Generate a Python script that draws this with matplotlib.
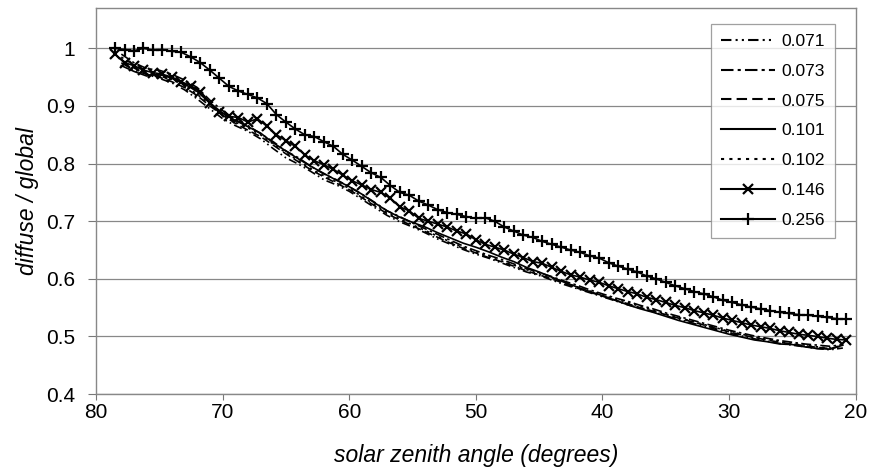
import matplotlib
matplotlib.use("Agg")
import matplotlib.pyplot as plt

plt.rcParams["font.family"] = ["Liberation Sans", "DejaVu Sans"]

# zenith angle grid for the plain lines (degrees)
x_lines = [78, 77, 76, 75, 74, 73, 72, 71, 70, 69, 68, 67, 66, 65, 64, 63, 62, 61, 60,
           59, 58, 57, 56, 55, 54, 53, 52, 51, 50, 49, 48, 47, 46, 45, 44, 43, 42, 41,
           40, 39, 38, 37, 36, 35, 34, 33, 32, 31, 30, 29, 28, 27, 26, 25, 24, 23, 22, 21]

# zenith angle grid for the two marker series
x_marks = [78.5, 77.75, 77.0, 76.25, 75.5, 74.75, 74.0, 73.25, 72.5, 71.75, 71.0, 70.25,
           69.5, 68.75, 68.0, 67.25, 66.5, 65.75, 65.0, 64.25, 63.5, 62.75, 62.0, 61.25,
           60.5, 59.75, 59.0, 58.25, 57.5, 56.75, 56.0, 55.25, 54.5, 53.75, 53.0, 52.25,
           51.5, 50.75, 50.0, 49.25, 48.5, 47.75, 47.0, 46.25, 45.5, 44.75, 44.0, 43.25,
           42.5, 41.75, 41.0, 40.25, 39.5, 38.75, 38.0, 37.25, 36.5, 35.75, 35.0, 34.25,
           33.5, 32.75, 32.0, 31.25, 30.5, 29.75, 29.0, 28.25, 27.5, 26.75, 26.0, 25.25,
           24.5, 23.75, 23.0, 22.25, 21.5, 20.75]

s071 = [0.975, 0.962, 0.955, 0.948, 0.94, 0.928, 0.912, 0.895, 0.878, 0.866, 0.856, 0.843,
        0.826, 0.81, 0.799, 0.786, 0.772, 0.763, 0.752, 0.738, 0.724, 0.71, 0.699, 0.69,
        0.68, 0.669, 0.66, 0.651, 0.643, 0.636, 0.628, 0.62, 0.612, 0.606, 0.598, 0.59,
        0.583, 0.576, 0.569, 0.562, 0.555, 0.549, 0.543, 0.536, 0.53, 0.524, 0.518, 0.512,
        0.506, 0.501, 0.496, 0.492, 0.488, 0.485, 0.482, 0.479, 0.477, 0.48]
s073 = [0.99, 0.975, 0.965, 0.962, 0.955, 0.945, 0.932, 0.91, 0.892, 0.876, 0.866, 0.852,
        0.838, 0.822, 0.81, 0.795, 0.782, 0.772, 0.76, 0.747, 0.733, 0.718, 0.708, 0.697,
        0.687, 0.677, 0.667, 0.657, 0.649, 0.641, 0.634, 0.626, 0.618, 0.611, 0.604, 0.596,
        0.589, 0.581, 0.574, 0.567, 0.561, 0.554, 0.548, 0.541, 0.535, 0.529, 0.523, 0.517,
        0.511, 0.506, 0.501, 0.497, 0.493, 0.49, 0.487, 0.485, 0.483, 0.486]
s075 = [0.98, 0.966, 0.955, 0.95, 0.942, 0.932, 0.918, 0.9, 0.884, 0.87, 0.858, 0.847,
        0.832, 0.817, 0.803, 0.789, 0.777, 0.766, 0.755, 0.741, 0.727, 0.713, 0.702, 0.692,
        0.682, 0.672, 0.662, 0.653, 0.645, 0.637, 0.63, 0.622, 0.614, 0.607, 0.6, 0.592,
        0.584, 0.577, 0.57, 0.563, 0.557, 0.55, 0.544, 0.538, 0.532, 0.526, 0.52, 0.514,
        0.508, 0.503, 0.498, 0.494, 0.49, 0.487, 0.484, 0.481, 0.479, 0.484]
s101 = [0.97, 0.96, 0.952, 0.955, 0.948, 0.938, 0.925, 0.905, 0.888, 0.875, 0.864, 0.853,
        0.836, 0.822, 0.808, 0.795, 0.783, 0.771, 0.76, 0.747, 0.732, 0.718, 0.707, 0.698,
        0.69, 0.68, 0.671, 0.662, 0.655, 0.647, 0.638, 0.63, 0.62, 0.612, 0.603, 0.594,
        0.586, 0.578, 0.571, 0.563, 0.555, 0.548, 0.542, 0.535, 0.528, 0.522, 0.516, 0.51,
        0.504, 0.499, 0.494, 0.491, 0.487, 0.486, 0.482, 0.479, 0.478, 0.485]
s102 = [0.985, 0.97, 0.96, 0.952, 0.946, 0.936, 0.92, 0.903, 0.886, 0.872, 0.862, 0.85,
        0.834, 0.819, 0.805, 0.791, 0.779, 0.768, 0.757, 0.743, 0.729, 0.715, 0.704, 0.694,
        0.684, 0.674, 0.664, 0.655, 0.647, 0.639, 0.631, 0.624, 0.616, 0.609, 0.602, 0.594,
        0.586, 0.579, 0.572, 0.565, 0.559, 0.552, 0.546, 0.539, 0.533, 0.527, 0.521, 0.515,
        0.509, 0.504, 0.499, 0.495, 0.491, 0.488, 0.485, 0.482, 0.48, 0.485]
s146 = [0.99, 0.975, 0.97, 0.962, 0.958, 0.955, 0.95, 0.942, 0.935, 0.925, 0.905, 0.89,
        0.882, 0.88, 0.872, 0.878, 0.865, 0.85, 0.84, 0.83, 0.815, 0.805, 0.798, 0.79,
        0.78, 0.77, 0.763, 0.755, 0.75, 0.74, 0.725, 0.718, 0.705, 0.7, 0.695, 0.69,
        0.683, 0.678, 0.668, 0.66, 0.655, 0.65, 0.643, 0.637, 0.63, 0.627, 0.62, 0.613,
        0.607, 0.603, 0.598, 0.594, 0.588, 0.583, 0.578, 0.574, 0.568, 0.564, 0.559, 0.554,
        0.55, 0.545, 0.541, 0.537, 0.532, 0.528, 0.524, 0.52, 0.517, 0.514, 0.51, 0.507,
        0.504, 0.502, 0.5, 0.497, 0.495, 0.494]
s256 = [1.0, 0.998, 0.996, 1.0, 0.997, 0.998, 0.995, 0.993, 0.985, 0.975, 0.962, 0.948,
        0.934, 0.926, 0.92, 0.914, 0.904, 0.885, 0.872, 0.86, 0.85, 0.847, 0.838, 0.83,
        0.816, 0.806, 0.795, 0.784, 0.776, 0.762, 0.75, 0.745, 0.735, 0.728, 0.72, 0.715,
        0.712, 0.708, 0.705, 0.706, 0.7, 0.69, 0.683, 0.676, 0.672, 0.665, 0.66, 0.655,
        0.65, 0.646, 0.64, 0.636, 0.628, 0.622, 0.617, 0.612, 0.605, 0.6, 0.594, 0.588,
        0.583, 0.578, 0.574, 0.569, 0.563, 0.559, 0.555, 0.551, 0.548, 0.545, 0.542, 0.54,
        0.538, 0.537, 0.535, 0.533, 0.531, 0.53]

labels = ["0.071", "0.073", "0.075", "0.101", "0.102", "0.146", "0.256"]

fig = plt.figure(figsize=(8.69, 4.72), dpi=100)
ax = fig.add_axes([0.1105, 0.165, 0.874, 0.818])

lw = 1.2
ax.plot(x_lines, s071, color="black", lw=lw, ls=(0, (5, 2, 1, 2, 1, 2)), label=labels[0])
ax.plot(x_lines, s073, color="black", lw=lw, ls=(0, (6, 2, 1.5, 2)), label=labels[1])
ax.plot(x_lines, s075, color="black", lw=lw, ls=(0, (5, 2.5)), label=labels[2])
ax.plot(x_lines, s101, color="black", lw=lw, ls="-", label=labels[3])
ax.plot(x_lines, s102, color="black", lw=lw, ls=(0, (1.5, 2.5)), label=labels[4])
ax.plot(x_marks, s146, color="black", lw=lw, marker="x", ms=7, mew=1.6, label=labels[5])
ax.plot(x_marks, s256, color="black", lw=lw, marker="+", ms=9, mew=1.6, label=labels[6])

ax.set_xlim(80, 20)
ax.set_ylim(0.4, 1.07)
ax.set_xticks([80, 70, 60, 50, 40, 30, 20])
ax.set_yticks([0.4, 0.5, 0.6, 0.7, 0.8, 0.9, 1.0])
ax.set_yticklabels(["0.4", "0.5", "0.6", "0.7", "0.8", "0.9", "1"])
ax.tick_params(labelsize=15, color="#777777", width=0.8)
ax.tick_params(axis="x", length=4, pad=2.5)
ax.tick_params(axis="y", length=5.5, pad=9.5)
ax.grid(axis="y", color="#888888", lw=0.9)
ax.set_axisbelow(True)
for sp in ax.spines.values():
    sp.set_color("#888888")
    sp.set_linewidth(1.0)

ax.set_xlabel("solar zenith angle (degrees)", fontsize=16.5, style="italic", labelpad=16)
ax.set_ylabel("diffuse / global", fontsize=16.5, style="italic", labelpad=5)

leg = ax.legend(loc="upper left", bbox_to_anchor=(0.81, 0.9585), borderaxespad=0,
                fontsize=12.5, frameon=True, fancybox=False, edgecolor="#888888",
                handlelength=3.1, handletextpad=0.4, labelspacing=0.85,
                borderpad=0.55)
leg.get_frame().set_linewidth(0.9)
for h in leg.get_lines():
    h.set_linewidth(1.5)

fig.savefig("out.png", dpi=100)
